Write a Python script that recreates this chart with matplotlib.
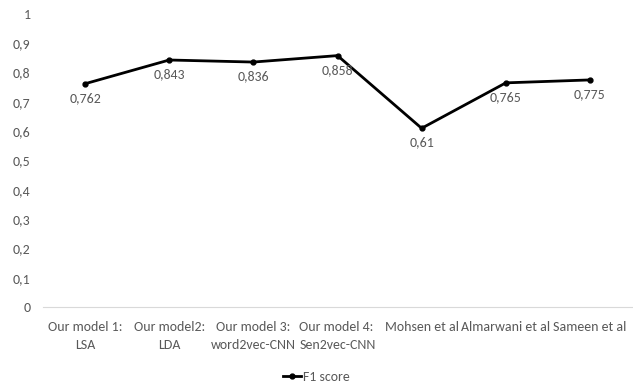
import matplotlib.pyplot as plt
import numpy as np

models = ['Our model 1:\nLSA', 'Our model2:\nLDA', 'Our model 3:\nword2vec-CNN',
          'Our model 4:\nSen2vec-CNN', 'Mohsen et al', 'Almarwani et al', 'Sameen et al']
f1_scores = [0.762, 0.843, 0.836, 0.858, 0.61, 0.765, 0.775]
f1_labels = ['0,762', '0,843', '0,836', '0,858', '0,61', '0,765', '0,775']
y_ticks = [0, 0.1, 0.2, 0.3, 0.4, 0.5, 0.6, 0.7, 0.8, 0.9, 1]
y_tick_labels = ['0', '0,1', '0,2', '0,3', '0,4', '0,5', '0,6', '0,7', '0,8', '0,9', '1']

plt.rcParams['font.family'] = ['Carlito', 'Lato', 'DejaVu Sans']
text_color = '#595959'

fig = plt.figure(figsize=(6.33, 3.84), dpi=100)
ax = fig.add_axes([43 / 633, 77 / 384, 589 / 633, 293 / 384])

x = np.arange(len(models))
ax.plot(x, f1_scores, color='black', linewidth=2, marker='o', markersize=3.5,
        label='F1 score')

for xi, yi, lab in zip(x, f1_scores, f1_labels):
    ax.annotate(lab, (xi, yi), xytext=(0, -6), textcoords='offset points',
                ha='center', va='top', fontsize=10, color=text_color)

ax.set_xlim(-0.5, len(models) - 0.5)
ax.set_ylim(0, 1)
ax.set_yticks(y_ticks)
ax.set_yticklabels(y_tick_labels)
ax.set_xticks(x)
ax.set_xticklabels(models, linespacing=1.65)
ax.get_xticklabels()[3].set_multialignment('left')
ax.tick_params(axis='both', length=0, labelsize=10, labelcolor=text_color)
ax.tick_params(axis='y', pad=9)
ax.tick_params(axis='x', pad=10)

for side in ['top', 'right', 'left']:
    ax.spines[side].set_visible(False)
ax.spines['bottom'].set_color('#d9d9d9')

leg = fig.legend(loc='lower center', bbox_to_anchor=(0.5, -0.03), frameon=False,
                 fontsize=10, handlelength=1.3, handletextpad=0.1)
for t in leg.get_texts():
    t.set_color(text_color)

fig.savefig('out.png', dpi=100)
